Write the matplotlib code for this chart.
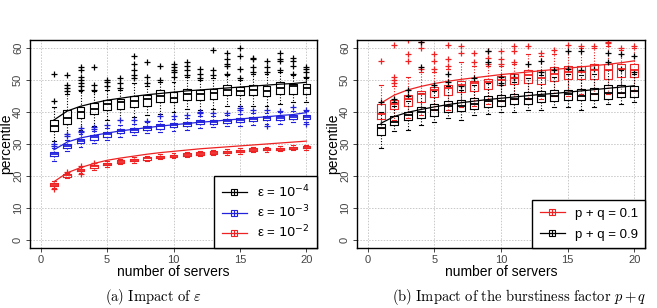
import matplotlib
matplotlib.use('Agg')
import matplotlib.pyplot as plt
from matplotlib.lines import Line2D

plt.rcParams['font.family'] = ['Liberation Sans', 'DejaVu Sans']
plt.rcParams['font.size'] = 10

servers = list(range(1, 21))

# ---- (a) impact of epsilon ----
eps4_med = [35.5, 38.0, 40.0, 41.0, 42.5, 43.0, 43.5, 44.0, 45.0, 44.5, 45.5, 45.5, 46.0, 47.0, 46.5, 47.0, 46.5, 47.5, 48.0, 47.5]
eps4_q1 = [34.0, 36.1, 38.2, 39.5, 40.5, 41.0, 41.7, 42.0, 43.1, 43.1, 43.6, 43.6, 44.0, 45.2, 45.2, 45.2, 45.0, 45.7, 45.7, 45.7]
eps4_q3 = [37.6, 40.5, 41.5, 42.8, 43.6, 44.1, 44.9, 45.2, 46.9, 46.2, 47.2, 46.9, 47.2, 48.3, 47.8, 48.3, 48.0, 49.3, 48.8, 48.8]
eps4_lo = [31.0, 33.0, 34.5, 35.5, 37.5, 37.5, 38.5, 39.0, 39.5, 40.0, 41.0, 40.5, 41.0, 42.0, 42.0, 42.0, 42.0, 42.5, 43.0, 43.0]
eps4_hi = [41.5, 45.5, 46.5, 46.5, 47.0, 47.0, 49.0, 48.0, 49.5, 49.5, 51.0, 50.0, 50.5, 51.5, 50.0, 52.0, 52.0, 52.5, 51.5, 50.5]
eps4_out = [[43.5, 51.8], [46.5, 47.5, 48.5, 51.7], [47.0, 48.0, 49.0, 50.0, 51.0, 53.0, 54.0],
            [47.0, 48.5, 54.0], [48.0, 49.5, 50.0], [47.5, 49.0, 50.5], [50.5, 51.5, 53.0, 55.0, 57.5],
            [49.0, 51.0, 55.5], [50.0, 54.5], [51.0, 52.5, 53.0, 54.0, 55.0], [51.5, 53.0, 54.5, 55.5],
            [50.5, 52.0, 53.5], [51.5, 53.0, 59.5], [52.0, 54.5, 55.0, 56.5, 58.5], [50.5, 53.5, 57.5, 60.0],
            [52.5, 54.0, 56.5, 57.0], [52.5, 54.0, 56.0], [53.0, 56.0, 56.5, 58.5], [52.0, 54.5, 56.0, 57.0],
            [51.0, 52.5, 53.5, 54.0]]
eps4_fit = [37.5, 40.3, 41.8, 42.8, 43.7, 44.3, 44.9, 45.4, 45.8, 46.2, 46.6, 46.9, 47.2, 47.5, 47.8, 48.1, 48.4, 48.7, 48.9, 49.3]

eps3_med = [26.8, 29.4, 31.0, 32.2, 33.0, 34.0, 34.5, 35.0, 35.5, 36.0, 36.3, 36.8, 37.0, 37.3, 37.5, 37.7, 38.0, 38.2, 38.5, 38.5]
eps3_q1 = [26.2, 28.7, 30.3, 31.4, 32.3, 33.3, 33.9, 34.4, 34.8, 35.3, 35.6, 36.1, 36.4, 36.7, 36.9, 37.1, 37.4, 37.6, 37.9, 37.9]
eps3_q3 = [27.4, 30.1, 31.7, 32.9, 33.8, 34.7, 35.1, 35.6, 36.2, 36.7, 37.0, 37.4, 37.6, 37.9, 38.2, 38.4, 38.6, 38.9, 39.1, 39.1]
eps3_lo = [24.6, 27.8, 29.2, 30.2, 31.2, 32.2, 32.8, 33.3, 33.6, 34.2, 34.4, 35.0, 35.2, 35.5, 35.7, 35.9, 36.2, 36.4, 36.8, 36.9]
eps3_hi = [28.6, 31.2, 33.0, 34.0, 35.0, 35.8, 36.4, 36.8, 37.3, 37.8, 38.2, 38.6, 38.8, 39.0, 39.4, 39.6, 39.8, 40.0, 40.3, 40.3]
eps3_out = [[29.4, 29.9], [32.6, 33.1], [33.6, 34.2, 35.0], [34.6, 35.4], [35.8], [37.4], [37.6], [37.3],
            [38.6], [38.7], [39.2], [39.6, 40.1], [39.7], [39.6], [40.6, 41.1], [40.7], [40.6, 35.6],
            [40.4], [41.5], [40.6, 36.4]]
eps3_fit = [28.2, 30.6, 31.9, 32.7, 33.4, 34.1, 34.6, 35.1, 35.6, 36.0, 36.4, 36.8, 37.1, 37.5, 37.8, 38.2, 38.5, 38.9, 39.2, 39.8]

eps2_med = [17.3, 20.2, 21.8, 23.0, 23.8, 24.5, 25.0, 25.5, 26.0, 26.3, 26.7, 27.0, 27.3, 27.5, 27.8, 28.2, 28.4, 28.5, 28.8, 29.0]
eps2_q1 = [16.9, 19.8, 21.4, 22.6, 23.4, 24.1, 24.6, 25.1, 25.6, 25.9, 26.3, 26.6, 26.9, 27.1, 27.4, 27.8, 28.0, 28.1, 28.4, 28.6]
eps2_q3 = [17.8, 20.6, 22.3, 23.4, 24.2, 24.9, 25.4, 25.9, 26.4, 26.7, 27.1, 27.4, 27.7, 27.9, 28.2, 28.6, 28.8, 28.9, 29.2, 29.4]
eps2_lo = [16.3, 19.4, 20.8, 22.0, 22.9, 23.6, 24.1, 24.7, 25.2, 25.5, 25.9, 26.2, 26.5, 26.7, 27.0, 27.4, 27.6, 27.7, 28.0, 28.2]
eps2_hi = [18.4, 21.0, 22.8, 24.0, 24.8, 25.4, 25.9, 26.3, 26.8, 27.1, 27.5, 27.8, 28.1, 28.3, 28.6, 29.0, 29.2, 29.3, 29.6, 29.8]
eps2_out = [[16.0], [21.3], [20.6, 23.0], [24.1], [], [], [], [], [], [], [], [], [], [], [], [], [], [], [], []]
eps2_fit = [18.2, 21.0, 22.6, 23.9, 24.9, 25.6, 26.2, 26.8, 27.3, 27.7, 28.1, 28.5, 28.8, 29.1, 29.4, 29.7, 30.0, 30.3, 30.6, 30.9]

# ---- (b) impact of burstiness p+q ----
pq1_med = [39.5, 42.5, 44.0, 45.5, 47.0, 47.5, 48.5, 49.0, 49.5, 50.0, 50.5, 51.5, 50.5, 52.0, 52.5, 52.5, 53.0, 53.0, 53.5, 53.0]
pq1_q1 = [37.9, 41.0, 42.0, 43.1, 44.7, 45.2, 46.2, 46.7, 47.2, 48.3, 48.6, 49.0, 48.8, 49.8, 50.4, 50.4, 50.4, 50.4, 50.9, 50.9]
pq1_q3 = [42.4, 43.6, 45.2, 46.7, 47.8, 48.3, 49.8, 49.8, 50.4, 51.4, 51.9, 53.0, 53.0, 54.0, 54.5, 54.5, 55.0, 55.0, 55.0, 55.0]
pq1_lo = [35.0, 37.5, 38.0, 39.0, 40.5, 40.5, 41.5, 42.0, 42.5, 43.5, 44.0, 44.0, 44.0, 45.0, 45.0, 45.5, 45.5, 45.5, 46.0, 46.5]
pq1_hi = [48.5, 48.0, 51.0, 52.5, 52.5, 53.5, 55.5, 54.5, 54.5, 54.5, 55.0, 58.0, 57.5, 58.0, 59.0, 60.0, 60.0, 60.5, 59.5, 60.0]
pq1_out = [[56.0], [49.0, 50.0, 51.0, 61.0], [56.0, 58.0, 62.5], [53.5, 60.0, 62.0], [53.5, 56.0, 58.0],
           [54.5, 56.5, 61.0], [58.5, 60.5], [55.5, 58.5], [55.0, 57.0, 59.0], [55.0, 56.5, 59.0],
           [55.5, 59.0, 60.5], [60.5], [58.5], [59.5], [61.0], [60.5], [60.5], [61.5, 62.0], [60.0], [60.5]]
pq1_fit = [42.8, 45.3, 46.9, 48.0, 48.9, 49.6, 50.2, 50.7, 51.2, 51.7, 52.1, 52.5, 52.9, 53.3, 53.7, 54.1, 54.5, 54.9, 55.4, 56.0]

pq9_med = [35.0, 37.0, 39.0, 40.0, 40.5, 42.0, 42.0, 42.5, 43.5, 43.5, 44.0, 44.0, 45.0, 45.0, 45.5, 45.0, 45.5, 46.0, 46.0, 46.5]
pq9_q1 = [32.7, 35.8, 37.4, 38.2, 38.9, 40.0, 40.3, 41.0, 41.7, 41.9, 42.4, 42.4, 43.1, 43.4, 43.6, 43.6, 43.9, 44.1, 44.6, 44.6]
pq9_q3 = [36.3, 38.6, 40.0, 41.5, 42.4, 43.4, 43.6, 44.4, 44.9, 45.2, 45.5, 46.2, 46.7, 46.9, 46.9, 47.1, 47.4, 48.3, 48.3, 48.0]
pq9_lo = [28.8, 34.0, 34.5, 36.0, 37.0, 38.0, 37.5, 39.0, 39.5, 40.0, 40.0, 40.5, 40.5, 41.5, 41.5, 40.5, 41.5, 42.5, 42.5, 43.0]
pq9_hi = [40.0, 42.0, 43.5, 46.0, 46.5, 48.0, 47.0, 48.5, 49.0, 48.5, 49.5, 50.5, 51.5, 51.0, 52.0, 51.5, 52.0, 53.0, 53.0, 52.0]
pq9_out = [[43.0], [43.0, 44.0], [45.0, 47.0], [54.0, 62.0], [48.5], [49.5, 52.0], [48.0], [50.5],
           [55.5, 59.0], [49.0, 51.0], [50.5, 51.0], [55.0], [52.5, 56.0], [53.0], [53.5, 59.0],
           [53.0, 59.0], [53.5], [55.5, 58.5], [53.5, 58.0], [52.5, 57.5]]
pq9_fit = [36.5, 38.6, 39.9, 40.8, 41.6, 42.3, 42.9, 43.4, 43.9, 44.3, 44.7, 45.1, 45.5, 45.8, 46.2, 46.6, 47.0, 47.4, 47.8, 48.2]


def draw_series(ax, med, q1, q3, lo, hi, out, fit, color):
    stats = []
    for i in range(len(servers)):
        stats.append({'med': med[i], 'q1': q1[i], 'q3': q3[i],
                      'whislo': lo[i], 'whishi': hi[i], 'fliers': out[i]})
    ax.bxp(stats, positions=servers, widths=0.58, manage_ticks=False,
           boxprops=dict(color=color, linewidth=0.8),
           whiskerprops=dict(color=color, linewidth=0.8, linestyle=(0, (1, 1.5))),
           capprops=dict(color=color, linewidth=0.8),
           medianprops=dict(color=color, linewidth=1.3),
           flierprops=dict(marker='+', markeredgecolor=color, markersize=4, markeredgewidth=0.9))
    ax.plot(servers, fit, color=color, linewidth=0.9)


def style_axes(ax):
    ax.set_xlim(-0.8, 20.8)
    ax.set_ylim(-2.5, 62.5)
    ax.set_xticks([0, 5, 10, 15, 20])
    ax.set_yticks([0, 10, 20, 30, 40, 50, 60])
    ax.grid(True, color='#c8c8c8', linestyle=(0, (1.5, 1.5)), linewidth=0.7)
    ax.set_axisbelow(True)
    ax.tick_params(labelsize=8, length=3, width=0.7, pad=2, color='#444444', labelcolor='#444444')
    for lbl in ax.get_yticklabels():
        lbl.set_rotation(90)
        lbl.set_va('center')
    for sp in ax.spines.values():
        sp.set_linewidth(1.0)
    ax.set_xlabel('number of servers', fontsize=10, labelpad=0)
    ax.set_ylabel('percentile', fontsize=10, va='center')
    ax.yaxis.set_label_coords(-0.082, 0.5)


def legend_handle(color):
    return (Line2D([], [], color=color, linewidth=0.9),
            Line2D([], [], marker='s', markersize=5, markerfacecolor='none', markeredgecolor=color,
                   markeredgewidth=0.8, linestyle='none'),
            Line2D([], [], marker='+', markersize=5, markeredgecolor=color, markeredgewidth=0.8,
                   linestyle='none'))


def add_legend(ax, handles, labels, spacing):
    leg = ax.legend(handles, labels, loc='lower right', borderaxespad=0, fancybox=False,
                    framealpha=1, edgecolor='black', fontsize=9.5, labelspacing=spacing,
                    handlelength=1.9, handletextpad=0.75, borderpad=0.55)
    leg.get_frame().set_linewidth(1.0)
    return leg


fig = plt.figure(figsize=(6.57, 3.08), dpi=100)
ax1 = fig.add_axes([0.0457, 0.195, 0.4368, 0.675])
ax2 = fig.add_axes([0.5434, 0.195, 0.4383, 0.675])

draw_series(ax1, eps4_med, eps4_q1, eps4_q3, eps4_lo, eps4_hi, eps4_out, eps4_fit, 'black')
draw_series(ax1, eps3_med, eps3_q1, eps3_q3, eps3_lo, eps3_hi, eps3_out, eps3_fit, '#2222dd')
draw_series(ax1, eps2_med, eps2_q1, eps2_q3, eps2_lo, eps2_hi, eps2_out, eps2_fit, '#ee2222')
style_axes(ax1)
add_legend(ax1, [legend_handle('black'), legend_handle('#2222dd'), legend_handle('#ee2222')],
           [r'ε = $10^{-4}$', r'ε = $10^{-3}$', r'ε = $10^{-2}$'], 0.28)

draw_series(ax2, pq1_med, pq1_q1, pq1_q3, pq1_lo, pq1_hi, pq1_out, pq1_fit, '#ee2222')
draw_series(ax2, pq9_med, pq9_q1, pq9_q3, pq9_lo, pq9_hi, pq9_out, pq9_fit, 'black')
style_axes(ax2)
add_legend(ax2, [legend_handle('#ee2222'), legend_handle('black')],
           ['p + q = 0.1', 'p + q = 0.9'], 0.65)

fig.text(0.233, 0.035, r'$\mathrm{(a)\ Impact\ of\ }\varepsilon$', ha='center', va='center',
         fontsize=10.5, math_fontfamily='cm')
fig.text(0.79, 0.035, r'$\mathrm{(b)\ Impact\ of\ the\ burstiness\ factor\ }p+q$', ha='center',
         va='center', fontsize=10.5, math_fontfamily='cm')

fig.savefig('out.png', dpi=100)
